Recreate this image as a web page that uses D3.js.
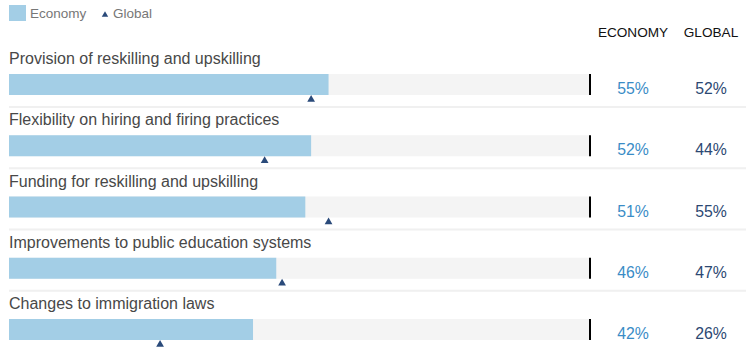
<!DOCTYPE html>
<html><head><meta charset="utf-8">
<script src="https://cdn.jsdelivr.net/npm/d3@7"></script>
<style>body{margin:0;background:#fff;}svg{display:block;font-family:"Liberation Sans",Arial,Helvetica,sans-serif;}</style>
</head><body><svg id="c" width="755" height="349"></svg>
<script>
const categories = ["Provision of reskilling and upskilling","Flexibility on hiring and firing practices","Funding for reskilling and upskilling","Improvements to public education systems","Changes to immigration laws"];
const economy = [55,52,51,46,42];
const global = [52,44,55,47,26];
const headers = ["ECONOMY","GLOBAL"];
const legendLabels = ["Economy","Global"];

const svg = d3.select("#c");
const x = d3.scaleLinear().domain([0,100]).range([9,590]);
const y = d3.scaleBand().domain(d3.range(categories.length)).range([45, 45+61.25*5]).paddingInner(0).paddingOuter(0);
const barColor = "#a3cee6", triColor = "#2a4a7a", econText = "#3a8cc6", globText = "#2c4872";

// legend
svg.append("rect").attr("x",9).attr("y",5).attr("width",17).attr("height",16).attr("fill",barColor);
svg.append("text").attr("x",30).attr("y",18).attr("font-size",13.5).attr("fill","#777").text(legendLabels[0]);
svg.append("path").attr("d",d3.symbol(d3.symbolTriangle,18)()).attr("transform","translate(105,15)").attr("fill",triColor);
svg.append("text").attr("x",113).attr("y",18).attr("font-size",13.5).attr("fill","#777").text(legendLabels[1]);

// headers
const hx = [633,711];
headers.forEach((h,i)=>svg.append("text").attr("x",hx[i]).attr("y",37).attr("text-anchor","middle").attr("font-size",13.6).attr("fill","#111").text(h));

const rows = svg.selectAll("g.row").data(categories).join("g").attr("class","row")
  .attr("transform",(d,i)=>`translate(0,${y(i)})`);

rows.append("text").attr("x",9).attr("y",19).attr("font-size",16).attr("fill","#484848").text(d=>d);
rows.append("rect").attr("x",x(0)).attr("y",29).attr("width",x(100)-x(0)).attr("height",21).attr("fill","#f4f4f4");
rows.append("rect").attr("x",x(0)).attr("y",29).attr("width",(d,i)=>x(economy[i])-x(0)).attr("height",21).attr("fill",barColor);
rows.append("rect").attr("x",x(100)-1).attr("y",29).attr("width",2).attr("height",21).attr("fill","#000");
rows.append("path").attr("d",d3.symbol(d3.symbolTriangle,26)()).attr("transform",(d,i)=>`translate(${x(global[i])},${54.5})`).attr("fill",triColor);
rows.append("text").attr("x",hx[0]).attr("y",49).attr("text-anchor","middle").attr("font-size",15.8).attr("fill",econText).text((d,i)=>economy[i]+"%");
rows.append("text").attr("x",hx[1]).attr("y",49).attr("text-anchor","middle").attr("font-size",15.8).attr("fill",globText).text((d,i)=>global[i]+"%");
rows.filter((d,i)=>i<categories.length-1).append("rect").attr("x",9).attr("y",61).attr("width",737).attr("height",2).attr("fill","#f0f0f0");
</script></body></html>
